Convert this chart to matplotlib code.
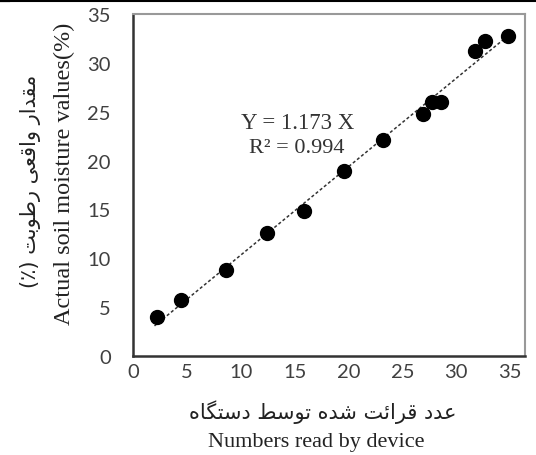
import matplotlib.pyplot as plt
import numpy as np
from matplotlib.lines import Line2D

# readings from the device vs actual soil moisture (%)
device_reading = [2.2, 4.5, 8.6, 12.4, 15.9, 19.6, 23.2, 26.9, 27.7, 28.6, 31.7, 32.7, 34.8]
actual_moisture = [4.0, 5.7, 8.8, 12.6, 14.8, 18.9, 22.1, 24.8, 26.0, 26.0, 31.2, 32.2, 32.8]
ticks = [0, 5, 10, 15, 20, 25, 30, 35]

eq_text = "Y = 1.173 X"
r2_text = "R² = 0.994"
xlabel_fa = "عدد قرائت شده توسط دستگاه"
xlabel_en = "Numbers read by device"
ylabel_fa = "مقدار واقعی رطوبت (٪)"
ylabel_en = "Actual soil moisture values(%)"

# simple persian shaping (no arabic_reshaper available)
FORMS = {
    'ا': ('\uFE8D', '\uFE8E', None, None),
    'ب': ('\uFE8F', '\uFE90', '\uFE91', '\uFE92'),
    'ت': ('\uFE95', '\uFE96', '\uFE97', '\uFE98'),
    'د': ('\uFEA9', '\uFEAA', None, None),
    'ر': ('\uFEAD', '\uFEAE', None, None),
    'س': ('\uFEB1', '\uFEB2', '\uFEB3', '\uFEB4'),
    'ش': ('\uFEB5', '\uFEB6', '\uFEB7', '\uFEB8'),
    'ط': ('\uFEC1', '\uFEC2', '\uFEC3', '\uFEC4'),
    'ع': ('\uFEC9', '\uFECA', '\uFECB', '\uFECC'),
    'ق': ('\uFED5', '\uFED6', '\uFED7', '\uFED8'),
    'م': ('\uFEE1', '\uFEE2', '\uFEE3', '\uFEE4'),
    'ه': ('\uFEE9', '\uFEEA', '\uFEEB', '\uFEEC'),
    'و': ('\uFEED', '\uFEEE', None, None),
    'ئ': ('\uFE89', '\uFE8A', '\uFE8B', '\uFE8C'),
    'ی': ('\uFBFC', '\uFBFD', '\uFBFE', '\uFBFF'),
    'گ': ('\uFB92', '\uFB93', '\uFB94', '\uFB95'),
}


def shape(text):
    out = []
    for i, ch in enumerate(text):
        if ch not in FORMS:
            out.append(ch)
            continue
        prev = text[i - 1] if i > 0 else ''
        nxt = text[i + 1] if i + 1 < len(text) else ''
        join_prev = prev in FORMS and FORMS[prev][2] is not None
        join_next = nxt in FORMS and FORMS[ch][2] is not None
        iso, fin, ini, med = FORMS[ch]
        if join_prev and join_next:
            out.append(med)
        elif join_prev:
            out.append(fin)
        elif join_next:
            out.append(ini)
        else:
            out.append(iso)
    vis = ''.join(reversed(out))
    return vis.translate(str.maketrans('()', ')('))


fig = plt.figure(figsize=(5.36, 4.56), dpi=100)
ax = fig.add_axes([0.248, 0.217, 0.732, 0.750])

ax.plot(device_reading, actual_moisture, 'o', color='black', ms=10, zorder=3)

k, b = np.polyfit(device_reading, actual_moisture, 1)
xl = np.array([2.0, 35.0])
ax.plot(xl, k * xl + b, color='#333333', lw=1.1, ls=(0, (2, 1.5)), zorder=2)

ax.set_xlim(0, 36.4)
ax.set_ylim(0, 35)
ax.set_xticks(ticks)
ax.set_yticks(ticks)
ax.tick_params(axis='both', length=0, labelsize=14.5, labelcolor='#404040')
ax.tick_params(axis='y', pad=16)
ax.tick_params(axis='x', pad=5)
for lab in ax.get_xticklabels() + ax.get_yticklabels():
    lab.set_family('Lato')

for s in ['left', 'bottom']:
    ax.spines[s].set_color('#333333')
    ax.spines[s].set_linewidth(1.8)
for s in ['top', 'right']:
    ax.spines[s].set_color('#999999')
    ax.spines[s].set_linewidth(1.5)

ax.text(0.42, 0.683, eq_text, transform=ax.transAxes, ha='center', va='center',
        family='Liberation Serif', fontsize=16.5, color='#333333')
ax.text(0.418, 0.61, r2_text, transform=ax.transAxes, ha='center', va='center',
        family='Liberation Serif', fontsize=16, color='#333333')

fig.text(0.603, 0.097, shape(xlabel_fa), ha='center', va='center',
         family='DejaVu Sans', fontsize=15, color='#222222')
fig.text(0.59, 0.03, xlabel_en, ha='center', va='center',
         family='Liberation Serif', fontsize=16, color='#222222')
fig.text(0.056, 0.603, shape(ylabel_fa), ha='center', va='center', rotation=90,
         family='DejaVu Sans', fontsize=15, color='#222222')
fig.text(0.121, 0.618, ylabel_en, ha='center', va='center', rotation=90,
         family='Liberation Serif', fontsize=17.5, color='#222222')

# page border line at the top of the scan
fig.add_artist(Line2D([0, 1], [0.995, 0.995], color='black', lw=1.5))
fig.add_artist(Line2D([0, 0.015], [0.997, 0.997], color='black', lw=3))

fig.savefig("out.png", dpi=100)
